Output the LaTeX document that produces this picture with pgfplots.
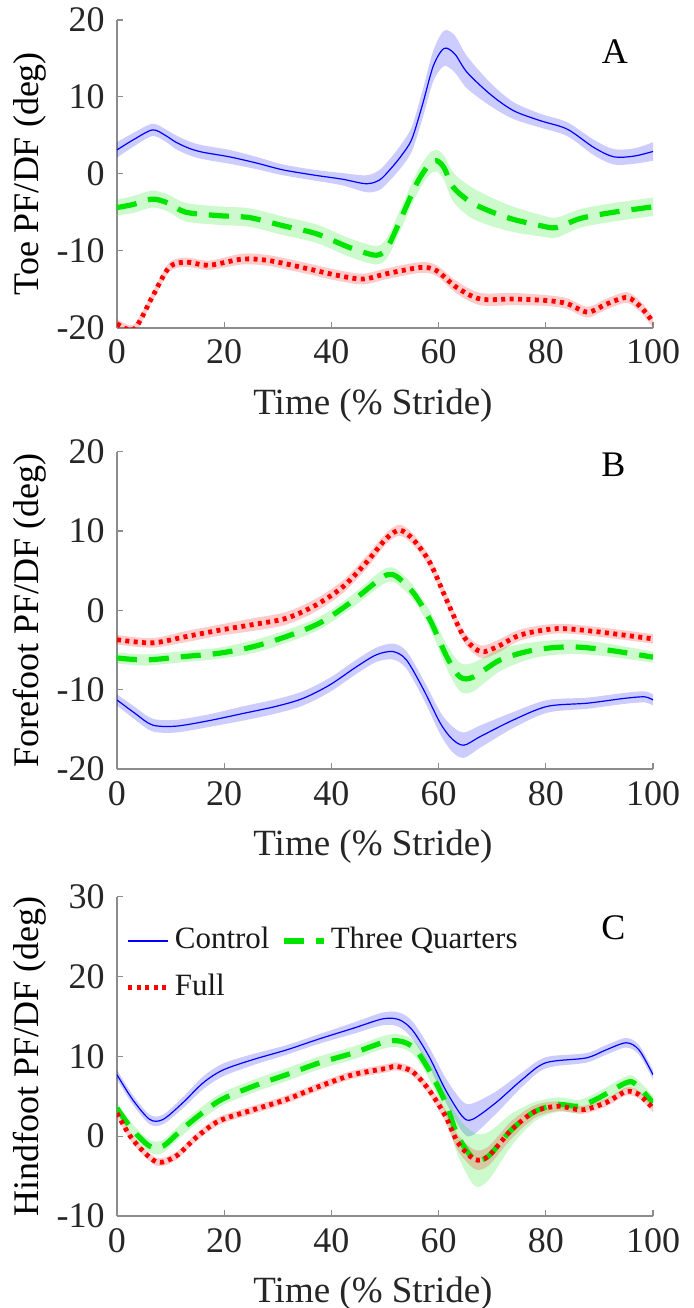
\documentclass[border=0pt]{standalone}
\usepackage{fontspec}
\setmainfont{Liberation Serif}
\newfontfamily\tnr{Liberation Serif}
\usepackage{pgfplots}
\usepackage{pgfplotstable}
\pgfplotsset{compat=1.18}
\usepgfplotslibrary{fillbetween}

\definecolor{ctrl}{rgb}{0,0,1}
\definecolor{tq}{rgb}{0,0.9,0}
\definecolor{full}{rgb}{1,0,0}
\definecolor{axgray}{RGB}{140,140,140}

% panel A: toe
\pgfplotstableread{
x m e
0 3.1 1.0
3 4.4 0.9
6.6 5.7 0.8
9 5.0 0.8
11 4.1 0.9
13.5 3.3 0.9
16 2.8 0.9
21 2.2 0.9
26 1.4 0.8
31 0.5 0.7
37 -0.2 0.7
42 -0.7 0.8
46.5 -1.3 1.1
49 -0.8 1.3
51 0.6 1.4
53 2.3 1.5
55 4.5 1.6
57 9.0 1.8
59 14.0 2.0
61 16.3 2.3
63 15.6 2.4
65.3 13.2 2.1
69.7 10.3 1.5
74 8.2 1.1
79 6.9 0.9
84 5.8 0.9
89 3.4 1.0
92.7 2.2 1.0
96.5 2.3 1.0
100 2.9 1.2
}\Ac
\pgfplotstableread{
x m e
0 -4.4 1.0
3 -4.0 1.1
6.6 -3.3 1.1
9.5 -3.8 1.1
12.8 -5.0 1.2
19 -5.45 1.2
24.7 -5.7 1.2
30.9 -6.75 1.2
37.2 -7.8 1.2
43.4 -9.6 1.2
48.4 -10.6 1.2
50.5 -9.5 1.3
52.8 -6.1 1.4
55.9 -1.3 1.4
58.2 1.2 1.4
59.6 1.7 1.4
61 0.8 1.6
62.8 -1.8 1.9
66.5 -3.9 2.0
72.8 -5.7 1.7
79 -6.75 1.4
82 -7.0 1.3
86.5 -5.8 1.2
92.7 -5.0 1.2
100 -4.3 1.2
}\At
\pgfplotstableread{
x m e
0 -19.5 0.6
3.2 -20.2 0.6
6.6 -16.0 0.6
9.7 -12.2 0.6
12.8 -11.5 0.6
17.2 -11.9 0.6
23.4 -11.1 0.7
28.4 -11.3 0.7
34.6 -12.2 0.7
41 -13.2 0.7
45.9 -13.7 0.7
50.3 -13.0 0.7
56.6 -12.2 0.7
59.6 -12.6 0.7
63.4 -14.8 0.8
67.8 -16.3 0.8
74 -16.3 0.8
80.3 -16.5 0.7
84 -16.9 0.7
87.8 -18.0 0.7
91.5 -16.9 0.7
95.2 -16.1 0.7
97.8 -17.4 0.7
100 -19.3 0.7
}\Af

% panel B: forefoot
\pgfplotstableread{
x m e
0 -11.3 0.7
3.4 -13.0 0.8
6.6 -14.45 0.8
11 -14.6 0.8
17.2 -13.9 0.8
23.5 -13.0 0.9
29.7 -12.1 0.9
34.7 -11.1 0.9
39.7 -9.4 0.9
44.7 -7.1 0.9
48.4 -5.6 0.9
51.5 -5.2 1.0
54 -6.25 1.1
57.2 -10.0 1.2
60.3 -14.2 1.4
62.5 -16.2 1.6
64.7 -17.0 1.6
67.8 -15.9 1.4
74 -13.8 1.0
80.3 -12.1 0.8
87.8 -11.7 0.7
94.6 -11.1 0.7
98.4 -10.9 0.7
100 -11.3 0.7
}\Bc
\pgfplotstableread{
x m e
0 -6.0 0.7
5.4 -6.25 0.7
12.9 -5.8 0.7
19.1 -5.4 0.7
25.3 -4.6 0.8
31.6 -3.3 0.8
37.8 -1.6 0.8
43.4 0.9 0.8
48.4 3.6 0.9
50.5 4.5 0.9
52.2 4.25 0.9
55.3 2.2 0.9
58.4 -1.2 1.1
61.5 -5.8 1.5
64 -8.4 1.8
66.5 -8.4 1.8
71.5 -6.25 1.4
77.8 -5.0 1.0
84.6 -4.6 0.9
91.5 -5.0 0.8
100 -5.9 0.7
}\Bt
\pgfplotstableread{
x m e
0 -3.7 0.6
6.6 -4.1 0.6
12.9 -3.3 0.7
19.1 -2.5 0.7
25.3 -1.8 0.8
31.6 -1.0 0.8
37.2 0.7 0.8
42.2 3.0 0.8
46.6 6.1 0.8
50.3 9.1 0.7
52.8 10.1 0.7
55.3 8.9 0.7
58.4 6.0 0.7
61.5 1.3 0.7
64.7 -3.3 0.7
67.8 -5.2 0.8
70.9 -4.6 0.8
75.3 -3.1 0.7
82.1 -2.3 0.6
89.6 -2.7 0.6
100 -3.6 0.6
}\Bf

% panel C: hindfoot
\pgfplotstableread{
x m e
0 7.7 0.6
2.9 4.6 0.6
6.1 2.1 0.6
8.6 2.1 0.6
12.3 4.2 0.7
16.1 6.7 0.8
19.8 8.3 0.8
25.4 9.6 0.7
31.6 10.8 0.6
37.8 12.2 0.6
44 13.5 0.7
49.6 14.7 0.8
52.6 14.6 0.9
55.1 13.3 1.1
58.2 10.0 1.2
61.3 5.8 1.5
64.4 2.5 1.9
66.3 2.1 2.0
70.7 4.2 1.4
75.6 7.1 0.9
80 9.2 0.7
87.5 9.8 0.6
91.2 10.8 0.6
95 11.7 0.6
97.4 10.8 0.6
100 7.7 0.6
}\Cc
\pgfplotstableread{
x m e
0 3.5 0.7
2.9 0.8 0.7
6.1 -1.25 0.8
8.6 -1.25 0.8
12.8 1.25 0.8
19 4.4 0.8
25.4 6.25 0.8
31.6 7.7 0.8
37.8 9.2 0.8
44 10.4 0.8
51 11.95 0.8
55.1 11.25 0.9
58.2 8.3 1.1
61.3 4.2 1.6
63.6 0.0 2.4
66.7 -2.9 3.3
69.3 -2.5 3.0
73.6 0.8 2.0
78 3.1 1.2
82.4 3.96 0.9
86.2 3.75 0.8
89.9 4.8 0.8
95 6.7 0.8
96.8 6.5 0.8
100 4.2 0.8
}\Ct
\pgfplotstableread{
x m e
0 2.9 0.5
2.9 -0.4 0.5
7.3 -3.2 0.5
11 -2.5 0.5
14.7 -0.2 0.5
19 1.9 0.5
25.4 3.3 0.5
31.6 4.6 0.5
37.8 6.25 0.5
44 7.7 0.5
50.3 8.5 0.5
52 8.75 0.5
55.1 8.1 0.5
58.2 5.8 0.6
61.3 2.5 0.8
63.6 -0.8 1.0
66.7 -2.9 1.2
69.3 -2.5 1.2
73.6 0.8 1.1
78 3.1 0.8
82.4 3.75 0.6
86.8 3.3 0.5
91.2 4.2 0.5
95 5.6 0.5
97.4 5.2 0.5
100 3.5 0.5
}\Cf

\pgfplotsset{
  panel/.style={
    width=268pt, scale only axis,
    xmin=0, xmax=100, xtick={0,20,...,100},
    axis lines=left,
    axis line style={-, line width=1pt, color=axgray},
    tick style={color=axgray, line width=0.6pt},
    tick align=inside, major tick length=3pt,
    /pgf/number format/assume math mode=true,
    ticklabel style={text=black!85, font=\tnr\fontsize{18}{22}\selectfont},
    label style={text=black!85, font=\tnr\fontsize{18.5}{22}\selectfont},
    every axis y label/.style={at={(axis description cs:-0.162,0.5)}, rotate=90, anchor=center},
    xlabel style={xshift=-6pt},
    xlabel={Time (\% Stride)},
  },
  ctrlline/.style={color=ctrl, line width=0.6pt, smooth},
  tqline/.style={color=tq, line width=2.6pt, dash pattern=on 10pt off 6pt, smooth},
  fullline/.style={color=full, line width=2.4pt, dash pattern=on 2pt off 2.2pt, smooth},
}

% shaded band: table, colour, path name
\newcommand{\band}[3]{%
  \addplot[draw=none, smooth, forget plot, name path=#3u] table[x=x, y expr=\thisrow{m}+\thisrow{e}] {#1};
  \addplot[draw=none, smooth, forget plot, name path=#3l] table[x=x, y expr=\thisrow{m}-\thisrow{e}] {#1};
  \addplot[fill=#2, fill opacity=0.2, draw=none, forget plot] fill between[of=#3u and #3l];
}

\begin{document}
\tnr\fontsize{18}{22}\selectfont
\begin{tikzpicture}[font=\tnr]
\begin{axis}[panel, height=153.75pt, at={(0pt,0pt)},
    ymin=-20, ymax=20, ytick={-20,-10,...,20},
    ylabel={Toe PF/DF (deg)}]
\band{\Ac}{ctrl}{ac}
\band{\At}{tq}{at}
\band{\Af}{full}{af}
\addplot[ctrlline] table[x=x, y=m] {\Ac};
\addplot[tqline] table[x=x, y=m] {\At};
\addplot[fullline] table[x=x, y=m] {\Af};
\node[font=\tnr\fontsize{18}{22}\selectfont] at (axis cs:92.9,15.9) {A};
\end{axis}

\begin{axis}[panel, height=158.65pt, at={(0pt,-220.75pt)},
    ymin=-20, ymax=20, ytick={-20,-10,...,20},
    ylabel={Forefoot PF/DF (deg)}]
\band{\Bc}{ctrl}{bc}
\band{\Bt}{tq}{bt}
\band{\Bf}{full}{bf}
\addplot[ctrlline] table[x=x, y=m] {\Bc};
\addplot[tqline] table[x=x, y=m] {\Bt};
\addplot[fullline] table[x=x, y=m] {\Bf};
\node[font=\tnr\fontsize{18}{22}\selectfont] at (axis cs:92.6,18.3) {B};
\end{axis}

\begin{axis}[panel, height=159.65pt, at={(0pt,-444.25pt)},
    ymin=-10, ymax=30, ytick={-10,0,...,30},
    ylabel={Hindfoot PF/DF (deg)},
    legend style={draw=none, fill=none, at={(0.005,0.93)}, anchor=north west,
      row sep=6pt, font=\tnr\fontsize{15.5}{18}\selectfont, text=black!90},
    legend columns=2, legend cell align=left,
    /tikz/every even column/.append style={column sep=4pt},
    legend image code/.code={\draw[#1] (0pt,0pt) -- (20pt,0pt);}]
\band{\Cc}{ctrl}{cc}
\band{\Ct}{tq}{ct}
\band{\Cf}{full}{cf}
\addplot[ctrlline] table[x=x, y=m] {\Cc};
\addlegendentry{Control}
\addplot[tqline] table[x=x, y=m] {\Ct};
\addlegendentry{Three Quarters}
\addplot[fullline] table[x=x, y=m] {\Cf};
\addlegendentry{Full}
\node[font=\tnr\fontsize{18}{22}\selectfont] at (axis cs:92.6,26.05) {C};
\end{axis}
\pgfresetboundingbox
\path (-58.5pt,163.75pt) rectangle (288.5pt,-490.25pt);
\end{tikzpicture}
\end{document}
